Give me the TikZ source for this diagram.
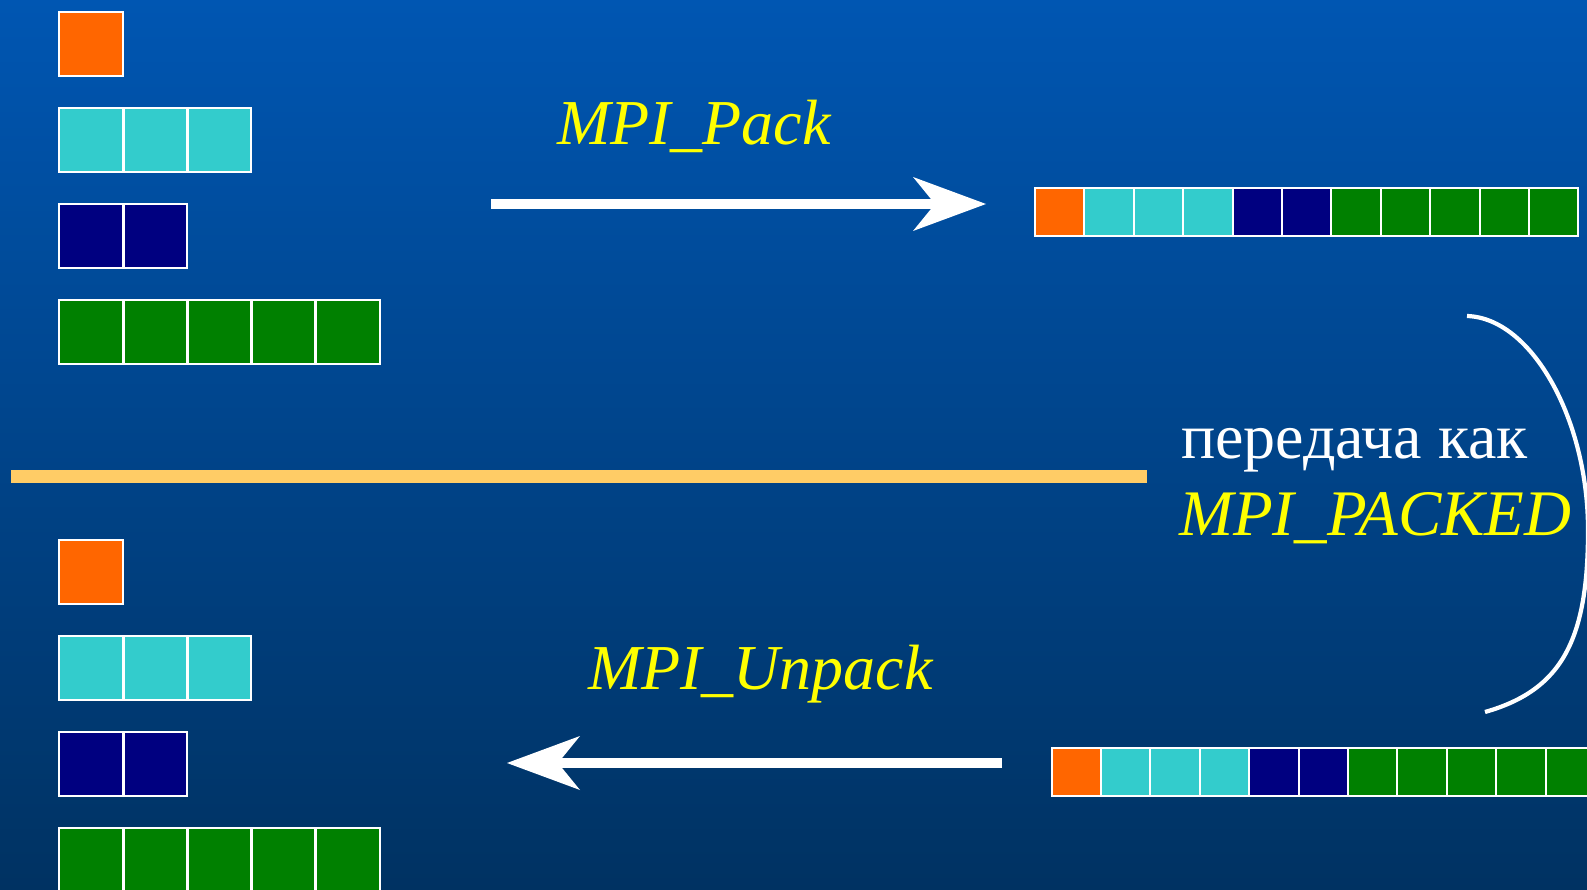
\documentclass[tikz,border=0pt]{standalone}
\usepackage{fontspec}
\setmainfont{Liberation Serif}
\usetikzlibrary{arrows.meta}
\definecolor{bgTop}{HTML}{0056B2}
\definecolor{bgBot}{HTML}{003262}
\definecolor{orangeC}{HTML}{FF6600}
\definecolor{cyanC}{HTML}{33CCCC}
\definecolor{navyC}{HTML}{000080}
\definecolor{greenC}{HTML}{008000}
\definecolor{sepC}{HTML}{FFCC66}
\definecolor{labelC}{HTML}{FFFF00}
\tikzset{
  cell/.style={draw=white, line width=2pt, minimum width=63.4pt, minimum height=63.4pt,
    inner sep=0pt, outer sep=0pt, anchor=north west},
  pcell/.style={draw=white, line width=2pt, minimum width=49.4pt, minimum height=48pt,
    inner sep=0pt, outer sep=0pt, anchor=north west},
  bigarrow/.style={draw=white, line width=9.5pt,
    -{Stealth[length=73pt, width=54pt, inset=22pt, line width=0pt]}},
  lbl/.style={inner sep=0pt, outer sep=0pt, anchor=base west,
    font=\fontsize{64}{70}\selectfont\itshape, text=labelC},
  rlbl/.style={inner sep=0pt, outer sep=0pt, anchor=base west,
    font=\fontsize{64}{70}\selectfont},
}
\begin{document}
\begin{tikzpicture}[x=1pt, y=-1pt]
\useasboundingbox (0,0) rectangle (1587,890);
\shade[top color=bgTop, bottom color=bgBot] (0,0) rectangle (1587,890);

% left groups (top and bottom)
\foreach \yo/\g in {12.3/t, 540.3/b} {
  \node[cell, fill=orangeC] (\g O0) at (59.3, \yo) {};
  \foreach \i in {0,1,2}
    \node[cell, fill=cyanC] (\g C\i) at ({59.3+64.2*\i}, {\yo+96}) {};
  \foreach \i in {0,1}
    \node[cell, fill=navyC] (\g N\i) at ({59.3+64.2*\i}, {\yo+192}) {};
  \foreach \i in {0,...,4}
    \node[cell, fill=greenC] (\g G\i) at ({59.3+64.2*\i}, {\yo+288}) {};
}

% packed rows
\foreach \c [count=\i from 0] in {orangeC,cyanC,cyanC,cyanC,navyC,navyC,greenC,greenC,greenC,greenC,greenC} {
  \node[pcell, fill=\c] (pT\i) at ({1035+49.4*\i}, 188) {};
  \node[pcell, fill=\c] (pB\i) at ({1051.5+49.4*\i}, 748) {};
}

% separator
\coordinate (sepL) at (11,476);
\coordinate (sepR) at (1147,476);
\draw[sepC, line width=13pt] (sepL) -- (sepR);

% arrows
\coordinate (packS) at (491,204);
\coordinate (packE) at (986,204);
\draw[bigarrow] (packS) -- (packE);
\coordinate (unpS) at (1002,763);
\coordinate (unpE) at (507,763);
\draw[bigarrow] (unpS) -- (unpE);

% curved arc
\coordinate (arcA) at (1467,316);
\coordinate (arcM) at (1588,530);
\coordinate (arcB) at (1485,712);
\draw[white, line width=4.2pt] (arcA) .. controls (1532,318) and (1588,420) .. (arcM)
  .. controls (1588,640) and (1562,690) .. (arcB);

% labels
\node[lbl] (lpack) at (557,145) {MPI\_Pack};
\node[lbl] (lunpack) at (588,689) {MPI\_Unpack};
\node[rlbl, text=white] (lsend) at (1181,458) {передача как};
\node[rlbl, font=\fontsize{65}{70}\selectfont\itshape, text=labelC] (lpacked) at (1179,535) {MPI\_PACKED};
\end{tikzpicture}
\end{document}
